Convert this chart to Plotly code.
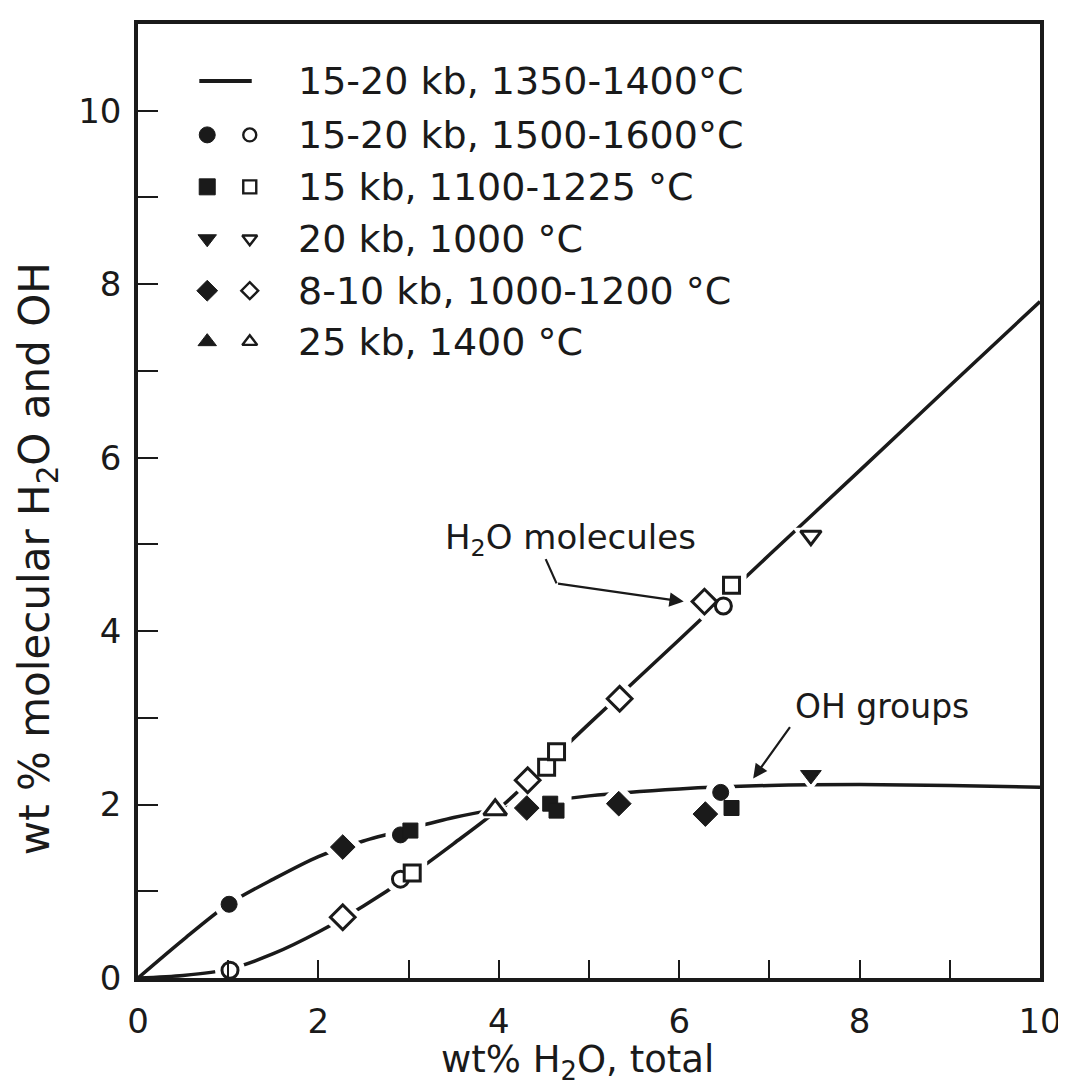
import plotly.graph_objects as go

# ---------------- data ----------------
curve_x = [0, 0.5, 1, 1.5, 2, 2.5, 3, 3.5, 4, 5, 6, 7, 8, 9, 10]
oh_curve_y = [0, 0.44, 0.85, 1.14, 1.40, 1.58, 1.72, 1.85, 1.95, 2.10, 2.18, 2.22, 2.23, 2.22, 2.20]
h2o_curve_y = [0, 0.03, 0.10, 0.28, 0.53, 0.83, 1.17, 1.55, 1.95, 2.93, 3.90, 4.88, 5.85, 6.83, 7.80]

# filled = OH groups, open = molecular H2O
circ_f_x = [1.01, 2.91, 6.46]; circ_f_y = [0.85, 1.65, 2.14]
circ_o_x = [1.02, 2.91, 6.49]; circ_o_y = [0.09, 1.14, 4.29]
sq_f_x = [3.02, 4.57, 4.64, 6.58]; sq_f_y = [1.70, 2.01, 1.93, 1.96]
sq_o_x = [3.04, 4.53, 4.64, 6.58]; sq_o_y = [1.21, 2.43, 2.61, 4.53]
tdn_f_x = [7.46]; tdn_f_y = [2.34]
tdn_o_x = [7.46]; tdn_o_y = [5.10]
dia_f_x = [2.27, 4.31, 5.33, 6.29]; dia_f_y = [1.51, 1.96, 2.01, 1.89]
dia_o_x = [2.27, 4.32, 5.34, 6.28]; dia_o_y = [0.70, 2.28, 3.22, 4.34]
tup_o_x = [3.96]; tup_o_y = [1.94]

legend_labels = [
    "15-20 kb, 1350-1400°C",
    "15-20 kb, 1500-1600°C",
    "15 kb, 1100-1225 °C",
    "20 kb, 1000 °C",
    "8-10 kb, 1000-1200 °C",
    "25 kb, 1400 °C",
]
legend_symbols = [None, "circle", "square", "triangle-down", "diamond", "triangle-up"]

FONT = "DejaVu Sans"
BLACK = "#1a1a1a"

fig = go.Figure()

# curves
for cy in (oh_curve_y, h2o_curve_y):
    fig.add_trace(go.Scatter(x=curve_x, y=cy, mode="lines",
                             line=dict(color=BLACK, width=3.5, shape="spline", smoothing=0.8),
                             showlegend=False, hoverinfo="skip"))

# symbol, filled x/y, open x/y, filled size, open size
groups = [
    ("circle", circ_f_x, circ_f_y, circ_o_x, circ_o_y, 16, 16),
    ("square", sq_f_x, sq_f_y, sq_o_x, sq_o_y, 15, 16),
    ("triangle-down", tdn_f_x, tdn_f_y, tdn_o_x, tdn_o_y, 18, 18),
    ("diamond", dia_f_x, dia_f_y, dia_o_x, dia_o_y, 19, 19),
    ("triangle-up", [], [], tup_o_x, tup_o_y, 18, 20),
]

# white halos to break the lines around the symbols
for sym, fx, fy, ox, oy, fs, os_ in groups:
    fig.add_trace(go.Scatter(x=fx + ox, y=fy + oy, mode="markers",
                             marker=dict(symbol=sym, size=max(fs, os_) + 14, color="white",
                                         line=dict(width=0)),
                             showlegend=False, hoverinfo="skip"))

for sym, fx, fy, ox, oy, fs, os_ in groups:
    if fx:
        fig.add_trace(go.Scatter(x=fx, y=fy, mode="markers",
                                 marker=dict(symbol=sym, size=fs, color=BLACK,
                                             line=dict(width=1, color=BLACK)),
                                 showlegend=False))
    fig.add_trace(go.Scatter(x=ox, y=oy, mode="markers",
                             marker=dict(symbol=sym, size=os_, color="white",
                                         line=dict(width=3, color=BLACK)),
                             showlegend=False))

# ---------- custom legend on a pixel-based overlay axis ----------
row_y = [72, 126, 178, 230, 282, 333]
fig.add_trace(go.Scatter(x=[192, 245], y=[row_y[0], row_y[0]], mode="lines",
                         line=dict(color=BLACK, width=4), xaxis="x2", yaxis="y2",
                         showlegend=False, hoverinfo="skip"))
for i, sym in enumerate(legend_symbols):
    if sym is None:
        continue
    fig.add_trace(go.Scatter(x=[200], y=[row_y[i]], mode="markers",
                             marker=dict(symbol=sym, size=16, color=BLACK,
                                         line=dict(width=1, color=BLACK)),
                             xaxis="x2", yaxis="y2", showlegend=False, hoverinfo="skip"))
    fig.add_trace(go.Scatter(x=[243], y=[row_y[i]], mode="markers",
                             marker=dict(symbol=sym, size=13, color="white",
                                         line=dict(width=2.4, color=BLACK)),
                             xaxis="x2", yaxis="y2", showlegend=False, hoverinfo="skip"))

annotations = []
for i, lab in enumerate(legend_labels):
    annotations.append(dict(x=290, y=row_y[i], xref="x2", yref="y2", text=lab,
                            showarrow=False, xanchor="left", yanchor="middle",
                            font=dict(family=FONT, size=38, color=BLACK)))

# axis titles (paper coordinates, placed as in the reference)
annotations.append(dict(x=0.487, y=-0.088, xref="paper", yref="paper",
                        text="wt% H<sub>2</sub>O, total", showarrow=False,
                        xanchor="center", yanchor="middle",
                        font=dict(family=FONT, size=37, color=BLACK)))
annotations.append(dict(x=-0.112, y=0.44, xref="paper", yref="paper",
                        text="wt % molecular H<sub>2</sub>O and OH", showarrow=False,
                        textangle=-90, xanchor="center", yanchor="middle",
                        font=dict(family=FONT, size=42, color=BLACK)))

# curve labels and arrows
annotations.append(dict(x=4.80, y=5.06, xref="x", yref="y", text="H<sub>2</sub>O molecules",
                        showarrow=False, font=dict(family=FONT, size=34, color=BLACK)))
annotations.append(dict(x=6.05, y=4.34, xref="x", yref="y", ax=4.64, ay=4.55,
                        axref="x", ayref="y", text="", showarrow=True, arrowhead=2,
                        arrowsize=1.3, arrowwidth=2.2, arrowcolor=BLACK))
annotations.append(dict(x=8.25, y=3.13, xref="x", yref="y", text="OH groups",
                        showarrow=False, font=dict(family=FONT, size=33, color=BLACK)))
annotations.append(dict(x=6.82, y=2.30, xref="x", yref="y", ax=7.24, ay=2.91,
                        axref="x", ayref="y", text="", showarrow=True, arrowhead=2,
                        arrowsize=1.3, arrowwidth=2.2, arrowcolor=BLACK))

shapes = [dict(type="line", xref="x", yref="y", x0=4.52, y0=4.83, x1=4.64, y1=4.55,
               line=dict(color=BLACK, width=2.2))]

tick_common = dict(ticks="inside", tickwidth=2, tickcolor=BLACK,
                   showline=True, linewidth=3.5, linecolor=BLACK, mirror=True,
                   showgrid=False, zeroline=False,
                   tickfont=dict(family=FONT, size=34, color=BLACK))

fig.update_layout(
    width=1066, height=1091,
    margin=dict(l=130, r=24, t=15, b=121),
    paper_bgcolor="white", plot_bgcolor="white",
    font=dict(family=FONT, color=BLACK),
    annotations=annotations, shapes=shapes,
    xaxis=dict(range=[0, 10], tick0=0, dtick=2, ticklen=18, ticklabelstandoff=10,
               minor=dict(tick0=0, dtick=1, ticks="inside", ticklen=18, tickwidth=2,
                          tickcolor=BLACK, showgrid=False),
               **tick_common),
    yaxis=dict(range=[0, 11], tick0=0, dtick=2, ticklen=20, ticklabelstandoff=6,
               minor=dict(tick0=0, dtick=1, ticks="inside", ticklen=20, tickwidth=2,
                          tickcolor=BLACK, showgrid=False),
               **tick_common),
    xaxis2=dict(overlaying="x", range=[130, 1042], visible=False, anchor="y2"),
    yaxis2=dict(overlaying="y", range=[970, 15], visible=False, anchor="x2"),
)

fig.write_html("out.html")
